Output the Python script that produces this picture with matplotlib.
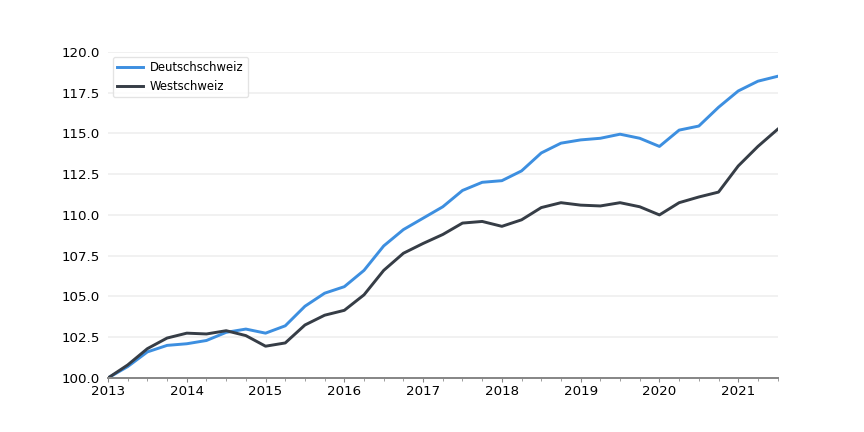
import matplotlib
matplotlib.use("Agg")
import matplotlib.pyplot as plt
import numpy as np
from matplotlib.ticker import MultipleLocator

quarters = [2013 + 0.25 * i for i in range(35)]
deutschschweiz = [100.0, 100.7, 101.6, 102.0, 102.1, 102.3, 102.8, 103.0, 102.75, 103.2,
                  104.4, 105.2, 105.6, 106.6, 108.1, 109.1, 109.8, 110.5, 111.5, 112.0,
                  112.1, 112.7, 113.8, 114.4, 114.6, 114.7, 114.95, 114.7, 114.2, 115.2,
                  115.45, 116.6, 117.6, 118.2, 118.5]
westschweiz = [100.0, 100.8, 101.8, 102.45, 102.75, 102.7, 102.9, 102.6, 101.95, 102.15,
               103.25, 103.85, 104.15, 105.1, 106.6, 107.65, 108.25, 108.8, 109.5, 109.6,
               109.3, 109.7, 110.45, 110.75, 110.6, 110.55, 110.75, 110.5, 110.0, 110.75,
               111.1, 111.4, 113.0, 114.2, 115.25]
year_ticks = list(range(2013, 2022))

fig = plt.figure(figsize=(9, 4.5), dpi=96)
ax = fig.add_axes([0.125, 0.125, 0.775, 0.755])
ax.plot(quarters, deutschschweiz, color="#3d8fe0", lw=2.2, label="Deutschschweiz")
ax.plot(quarters, westschweiz, color="#363d46", lw=2.2, label="Westschweiz")
ax.set_xlim(2013, 2021.5)
ax.set_ylim(100, 120)
ax.set_xticks(year_ticks)
ax.set_xticklabels([str(y) for y in year_ticks])
ax.xaxis.set_minor_locator(MultipleLocator(0.25))
ax.yaxis.set_major_locator(MultipleLocator(2.5))
ax.yaxis.set_major_formatter(matplotlib.ticker.FormatStrFormatter("%.1f"))
ax.grid(axis="y", color="#eeeeee", lw=1.2)
ax.set_axisbelow(True)
for s in ["top", "right", "left"]:
    ax.spines[s].set_visible(False)
ax.spines["bottom"].set_color("#888888")
ax.spines["bottom"].set_linewidth(1.5)
ax.tick_params(axis="y", length=0, pad=6, labelsize=10)
ax.tick_params(axis="x", which="major", length=3, color="#888888", labelsize=10, pad=2)
ax.tick_params(axis="x", which="minor", length=2, color="#888888")
ax.legend(loc="upper left", bbox_to_anchor=(0.0, 0.999), fontsize=8.7, frameon=True,
          edgecolor="#dddddd", handlelength=2.2, borderaxespad=0.4,
          labelspacing=0.45, handletextpad=0.6)
fig.savefig("out.png", dpi=96)
